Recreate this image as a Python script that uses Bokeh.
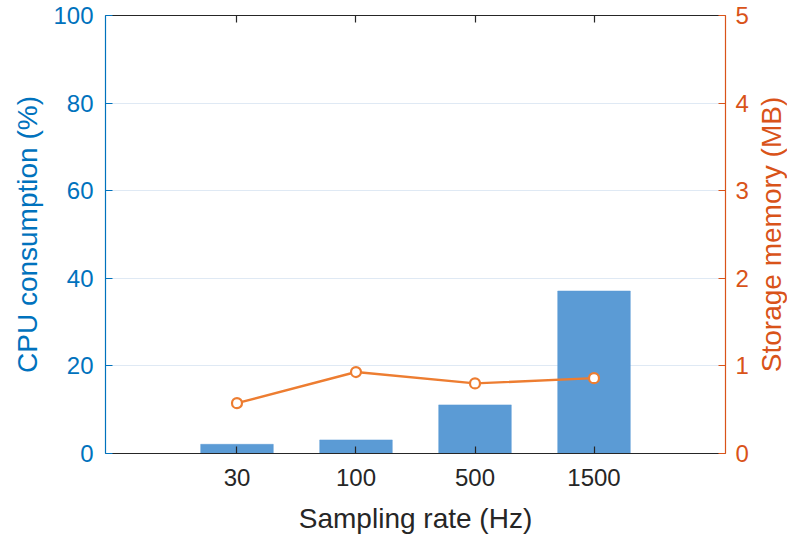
from bokeh.plotting import figure
from bokeh.layouts import row
from bokeh.models import Range1d, LinearAxis, FixedTicker
from bokeh.embed import file_html
from bokeh.resources import INLINE

# ---- data ----
categories = ["30", "100", "500", "1500"]
cpu_percent = [2.1, 3.1, 11.1, 37.1]
storage_mb = [0.575, 0.93, 0.80, 0.86]
cpu_ticks = [0, 20, 40, 60, 80, 100]
mem_ticks = [0, 1, 2, 3, 4, 5]

x_pos = list(range(1, len(categories) + 1))

BLUE_AX = "#0072BD"
ORANGE_AX = "#D95319"
BAR = "#5B9BD5"
LINE = "#ED7D31"
DARK = "#262626"
FONT = "Liberation Sans"

p = figure(width=752, height=540, output_backend="svg", toolbar_location=None,
           x_range=Range1d(-0.105, 5.105), y_range=Range1d(0, 100),
           min_border_left=105, min_border_right=27, min_border_top=15,
           min_border_bottom=87)
p.extra_y_ranges = {"mem": Range1d(0, 5)}
p.outline_line_color = None
p.background_fill_color = "white"
p.border_fill_color = "white"

# grid
p.xgrid.visible = False
p.ygrid.ticker = FixedTicker(ticks=[t for t in cpu_ticks if 0 < t < 100])
p.ygrid.grid_line_color = "#dfe9f4"
p.ygrid.grid_line_width = 1

# glyphs
p.vbar(x=x_pos, top=cpu_percent, bottom=0, width=0.61, fill_color=BAR,
       line_color=BAR, line_width=0.5)
p.line(x_pos, storage_mb, y_range_name="mem", line_color=LINE, line_width=2.4)
p.scatter(x_pos, storage_mb, y_range_name="mem", marker="circle", size=10,
          fill_color="white", line_color=LINE, line_width=2.2)

def style(ax, color, label_size="24px"):
    ax.axis_line_color = color
    ax.axis_line_width = 1.2
    ax.major_tick_line_color = color
    ax.major_tick_line_width = 1.2
    ax.major_tick_in = 7
    ax.major_tick_out = 0
    ax.minor_tick_line_color = None
    ax.major_label_text_color = color
    ax.major_label_text_font = FONT
    ax.major_label_text_font_size = label_size
    ax.axis_label_text_color = color
    ax.axis_label_text_font = FONT
    ax.axis_label_text_font_size = "28px"
    ax.axis_label_text_font_style = "normal"

# bottom axis
xa = p.xaxis[0]
xa.ticker = FixedTicker(ticks=x_pos)
xa.major_label_overrides = {x: c for x, c in zip(x_pos, categories)}
xa.axis_label = "Sampling rate (Hz)"
style(xa, DARK)
xa.major_label_standoff = 15
xa.axis_label_standoff = 14

# left axis
ya = p.yaxis[0]
ya.ticker = FixedTicker(ticks=cpu_ticks)
ya.axis_label = "CPU consumption (%)"
style(ya, BLUE_AX)
ya.major_label_standoff = 12
ya.axis_label_standoff = 7

# right axis (its title is drawn by the narrow strip figure below so that
# it reads bottom-to-top like the reference)
ra = LinearAxis(y_range_name="mem", ticker=FixedTicker(ticks=mem_ticks))
style(ra, ORANGE_AX)
ra.major_label_standoff = 10
p.add_layout(ra, "right")

# top axis (box line with inward ticks, no labels)
ta = LinearAxis(ticker=FixedTicker(ticks=x_pos))
style(ta, DARK, label_size="0px")
ta.major_label_standoff = 0
ta.major_label_overrides = {x: "" for x in x_pos}
p.add_layout(ta, "above")

# narrow strip carrying the right-axis title
p2 = figure(width=35, height=540, output_backend="svg", toolbar_location=None,
            y_range=Range1d(0, 5), x_range=Range1d(0, 1),
            min_border_left=28, min_border_right=0, min_border_top=15,
            min_border_bottom=87)
p2.outline_line_color = None
p2.grid.visible = False
p2.xaxis.visible = False
p2.background_fill_color = "white"
p2.border_fill_color = "white"
ya2 = p2.yaxis[0]
ya2.ticker = FixedTicker(ticks=[])
ya2.axis_line_color = None
ya2.major_tick_line_color = None
ya2.minor_tick_line_color = None
ya2.major_label_text_font_size = "0px"
ya2.major_label_standoff = 0
ya2.axis_label = "Storage memory (MB)"
ya2.axis_label_text_color = ORANGE_AX
ya2.axis_label_text_font = FONT
ya2.axis_label_text_font_size = "28px"
ya2.axis_label_text_font_style = "normal"
ya2.axis_label_standoff = -6

layout = row(p, p2)
open("out.html", "w").write(file_html(layout, INLINE))
